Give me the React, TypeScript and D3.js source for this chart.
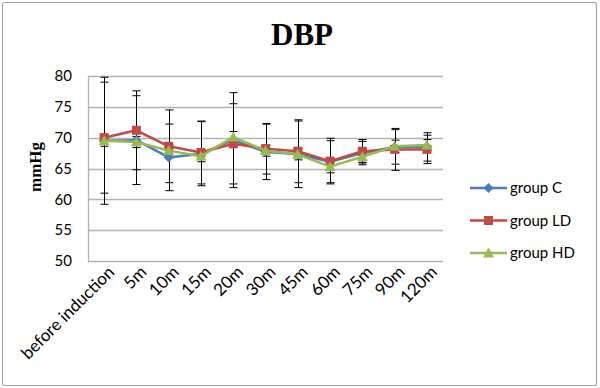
import React from "react";
import * as d3 from "d3";

const categories = ["before induction", "5m", "10m", "15m", "20m", "30m", "45m", "60m", "75m", "90m", "120m"];
const groupC = [69.5, 69.6, 66.8, 67.4, 69.6, 67.7, 67.3, 66.1, 67.5, 68.5, 68.5];
const groupCsd = [10.3, 7.2, 5.4, 5.2, 7.7, 4.5, 5.4, 3.4, 1.9, 2.8, 2.3];
const groupLD = [70.0, 71.2, 68.6, 67.6, 69.0, 68.2, 67.8, 66.2, 67.8, 68.1, 68.1];
const groupLDsd = [9.0, 6.4, 5.9, 5.1, 6.5, 4.1, 5.1, 3.7, 1.9, 3.4, 2.3];
const groupHD = [69.5, 69.3, 67.9, 67.0, 70.1, 67.9, 67.3, 65.3, 66.9, 68.6, 68.8];
const groupHDsd = [0.9, 0.9, 0.9, 0.9, 0.9, 0.9, 0.9, 1.0, 0.9, 1.0, 0.9];
const yTicks = [50, 55, 60, 65, 70, 75, 80];

const seriesList = [
  { name: "group C", values: groupC, sd: groupCsd, color: "#4A7EBB", marker: "diamond" },
  { name: "group LD", values: groupLD, sd: groupLDsd, color: "#BE4B48", marker: "square" },
  { name: "group HD", values: groupHD, sd: groupHDsd, color: "#98B954", marker: "triangle" },
];

const W = 600, H = 388;
const plot = { left: 88, right: 443, top: 76, bottom: 261 };
const tickFont = "Lato, 'Open Sans', 'Liberation Sans', sans-serif";

function Marker({ type, x, y, color }: { type: string; x: number; y: number; color: string }) {
  if (type === "diamond") {
    const s = 5;
    return <path d={`M${x},${y - s}L${x + s},${y}L${x},${y + s}L${x - s},${y}Z`} fill={color} />;
  }
  if (type === "square") {
    const s = 4.5;
    return <rect x={x - s} y={y - s} width={2 * s} height={2 * s} fill={color} />;
  }
  const s = 5.5;
  return <path d={`M${x},${y - s}L${x + s},${y + s * 0.8}L${x - s},${y + s * 0.8}Z`} fill={color} />;
}

export default function App() {
  const x = d3.scaleBand<string>().domain(categories).range([plot.left, plot.right]);
  const cx = (c: string) => (x(c) as number) + x.bandwidth() / 2;
  const y = d3.scaleLinear().domain([50, 80]).range([plot.bottom, plot.top]);
  const line = d3.line<number>().x((_, i) => cx(categories[i])).y((v) => y(v));

  return (
    <svg width={W} height={H} style={{ position: "absolute", left: 0, top: 0 }}>
      <rect x={0} y={0} width={W} height={H} fill="#fff" />
      <rect x={2.5} y={2.5} width={594} height={383} fill="none" stroke="#A6A6A6" strokeWidth={1.2} rx={2} />
      <text x={302} y={45} textAnchor="middle" fontFamily="'Liberation Serif', 'DejaVu Serif', serif" fontWeight="bold" fontSize={31}>DBP</text>
      <text transform={`translate(41,167) rotate(-90)`} textAnchor="middle" fontFamily="'Liberation Serif', serif" fontWeight="bold" fontSize={17}>mmHg</text>

      {yTicks.map((t) => (
        <g key={t}>
          <line x1={plot.left} x2={plot.right} y1={Math.round(y(t)) + 0.5} y2={Math.round(y(t)) + 0.5} stroke="#B3B3B3" strokeWidth={1.3} />
          <text x={72} y={y(t)} dy="0.35em" textAnchor="end" fontFamily={tickFont} fontSize={15}>{t}</text>
        </g>
      ))}
      <line x1={plot.left + 0.5} x2={plot.left + 0.5} y1={plot.top} y2={plot.bottom} stroke="#B3B3B3" strokeWidth={1.3} />

      {categories.map((c) => (
        <text key={c} transform={`translate(${cx(c) + 7},${plot.bottom + 8}) rotate(-45)`} textAnchor="end" dy="0.35em" fontFamily={tickFont} fontSize={17}>{c}</text>
      ))}

      {seriesList.map((s) => (
        <g key={s.name + "eb"} stroke="#000" strokeWidth={1}>
          {s.values.map((v, i) => {
            const px = Math.round(cx(categories[i])) + 0.5;
            const hi = y(v + s.sd[i]);
            const lo = y(v - s.sd[i]);
            return (
              <g key={i}>
                <line x1={px} x2={px} y1={hi} y2={lo} />
                <line x1={px - 4} x2={px + 4} y1={hi} y2={hi} />
                <line x1={px - 4} x2={px + 4} y1={lo} y2={lo} />
              </g>
            );
          })}
        </g>
      ))}

      {seriesList.map((s) => (
        <g key={s.name}>
          <path d={line(s.values) as string} fill="none" stroke={s.color} strokeWidth={2.5} strokeLinejoin="round" />
          {s.values.map((v, i) => (
            <Marker key={i} type={s.marker} x={cx(categories[i])} y={y(v)} color={s.color} />
          ))}
        </g>
      ))}

      {seriesList.map((s, i) => {
        const ly = 188 + i * 32.5;
        return (
          <g key={s.name + "lg"}>
            <line x1={470} x2={507} y1={ly} y2={ly} stroke={s.color} strokeWidth={2.5} />
            <Marker type={s.marker} x={488.5} y={ly} color={s.color} />
            <text x={510} y={ly} dy="0.35em" fontFamily={tickFont} fontSize={15}>{s.name}</text>
          </g>
        );
      })}
    </svg>
  );
}
